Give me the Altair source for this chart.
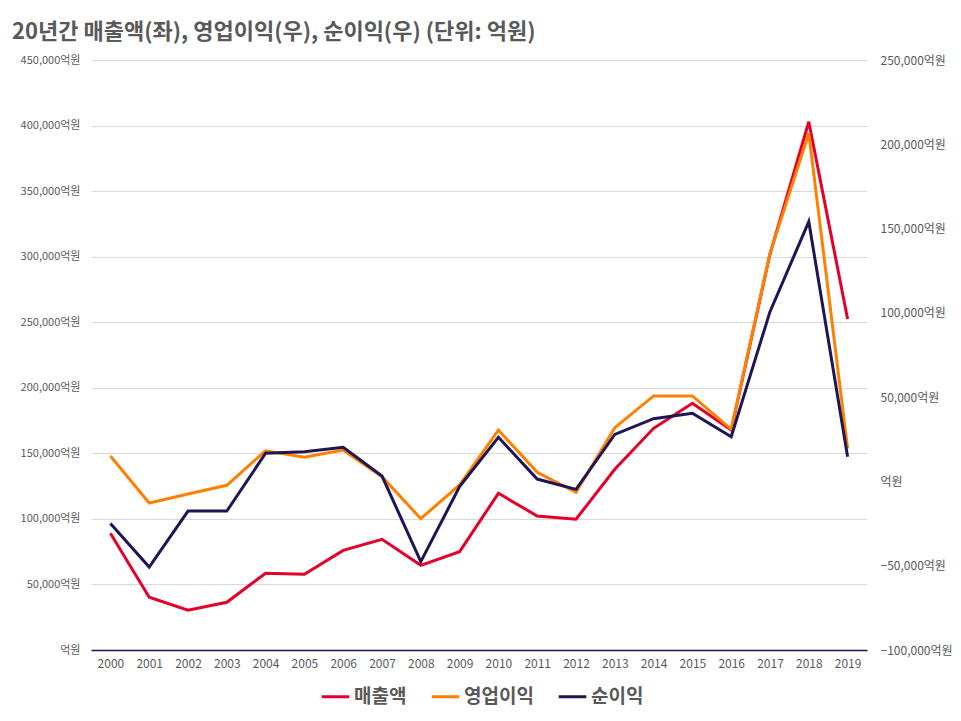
import altair as alt
import pandas as pd

years = list(range(2000, 2020))
series = ['매출액', '영업이익', '순이익']
colors = ['#E4002B', '#FF8000', '#1E1555']

# 매출액 (left axis)
sales = [89000, 40200, 30300, 36400, 58500, 57700, 76000, 84400, 64600, 75000,
         119500, 102200, 99700, 137800, 169100, 188200, 167800, 302000, 402900, 252500]
# 영업이익, 순이익 (right axis)
op_profit = [15100, -12800, -7500, -2300, 18200, 14300, 18600, 2800, -22100, -2100,
             30500, 5400, -6500, 31900, 50700, 50700, 30900, 135300, 206500, 19600]
net_income = [-24900, -50800, -17600, -17600, 16700, 17600, 20200, 3200, -47600, -3100,
              26200, 1400, -4700, 27900, 37200, 40400, 26500, 100700, 154100, 14700]

left_ticks = list(range(0, 450001, 50000))
right_ticks = list(range(-100000, 250001, 50000))

font = 'Noto Sans CJK KR'
grey = '#595959'
label_expr = "datum.value == 0 ? '억원' : format(datum.value, ',') + '억원'"

df_sales = pd.DataFrame({'year': years, 'value': sales, 'series': series[0]})
df_op = pd.DataFrame({'year': years, 'value': op_profit, 'series': series[1]})
df_net = pd.DataFrame({'year': years, 'value': net_income, 'series': series[2]})

x_enc = alt.X('year:O', scale=alt.Scale(type='point', padding=0.5),
              axis=alt.Axis(title=None, labelAngle=0, ticks=False, grid=False,
                            domainColor='#1E1555', domainWidth=1.5,
                            labelFont=font, labelFontSize=12, labelColor=grey,
                            labelPadding=8))

color_enc = alt.Color('series:N', scale=alt.Scale(domain=series, range=colors),
                      legend=alt.Legend(title=None, orient='none', legendX=229, legendY=621,
                                        direction='horizontal', columns=3,
                                        symbolType='stroke', symbolStrokeWidth=3,
                                        symbolSize=760, labelFont=font, labelFontSize=19,
                                        labelFontWeight='bold', labelColor=grey,
                                        labelOffset=3, columnPadding=18))

left = alt.Chart(df_sales).mark_line(strokeWidth=3).encode(
    x=x_enc,
    y=alt.Y('value:Q', scale=alt.Scale(domain=[0, 450000], nice=False),
            axis=alt.Axis(title=None, orient='left', values=left_ticks, labelExpr=label_expr,
                          grid=True, gridColor='#d9d9d9', domain=False, ticks=False,
                          labelPadding=11, labelFont=font, labelFontSize=11, labelColor=grey)),
    color=color_enc,
)

right_y = alt.Y('value:Q', scale=alt.Scale(domain=[-100000, 250000], nice=False),
                axis=alt.Axis(title=None, orient='right', values=right_ticks, labelExpr=label_expr,
                              grid=False, domain=False, ticks=False,
                              labelPadding=13, labelFont=font, labelFontSize=12, labelColor=grey))

op = alt.Chart(df_op).mark_line(strokeWidth=3).encode(x=x_enc, y=right_y, color=color_enc)
net = alt.Chart(df_net).mark_line(strokeWidth=3).encode(x=x_enc, y=right_y, color=color_enc)

chart = alt.layer(left, alt.layer(op, net)).resolve_scale(y='independent').properties(
    width=776, height=590,
    autosize='none',
    padding={'left': 83, 'top': 52, 'right': 86, 'bottom': 63},
    title=alt.TitleParams(text='20년간 매출액(좌), 영업이익(우), 순이익(우) (단위: 억원)',
                          anchor='start', frame='group', dx=-79, offset=10,
                          font=font, fontSize=22, fontWeight='bold', color=grey),
).configure_view(stroke=None)

chart.save("out.html", embed_options={"renderer": "svg", "actions": False})
